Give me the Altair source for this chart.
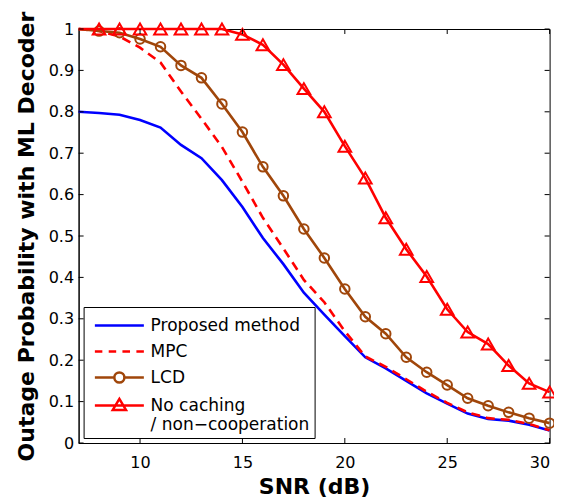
import altair as alt
import pandas as pd

# ---------------- data ----------------
snr = list(range(7, 31))
proposed = [0.800, 0.797, 0.793, 0.780, 0.762, 0.720, 0.688, 0.635, 0.570, 0.495,
            0.432, 0.363, 0.310, 0.258, 0.207, 0.180, 0.150, 0.120, 0.095, 0.071,
            0.058, 0.054, 0.044, 0.030]
mpc = [1.000, 0.995, 0.982, 0.955, 0.919, 0.849, 0.783, 0.715, 0.631, 0.544,
       0.470, 0.394, 0.340, 0.270, 0.209, 0.184, 0.154, 0.124, 0.097, 0.074,
       0.060, 0.056, 0.046, 0.031]
lcd = [1.000, 0.995, 0.991, 0.976, 0.957, 0.912, 0.882, 0.819, 0.751, 0.667,
       0.597, 0.517, 0.447, 0.372, 0.305, 0.264, 0.207, 0.171, 0.140, 0.108,
       0.090, 0.074, 0.060, 0.048]
no_caching = [1.000, 1.000, 1.000, 1.000, 1.000, 1.000, 1.000, 1.000, 0.987, 0.962,
              0.914, 0.856, 0.800, 0.717, 0.640, 0.544, 0.468, 0.402, 0.323, 0.268,
              0.239, 0.187, 0.144, 0.123]

series_names = ["Proposed method", "MPC", "LCD", "No caching\n/ non\u2212cooperation"]
series_colors = ["#0000FF", "#FF0000", "#A0460A", "#FF0000"]
legend_paths = [
    "M-0.59,0H3.41",
    "M-0.59,0H0.02M0.54,0H1.15M1.66,0H2.28M2.8,0H3.41",
    "M-0.59,0H1.0M1.82,0H3.41M1.82,0A0.41,0.41 0 1,1 1.0,0A0.41,0.41 0 1,1 1.82,0",
    "M-0.59,0H3.41M1.41,-0.54L1.95,0.36L0.87,0.36Z",
]
x_ticks = [10, 15, 20, 25, 30]
y_ticks = [0, 0.1, 0.2, 0.3, 0.4, 0.5, 0.6, 0.7, 0.8, 0.9, 1.0]

W, H = 471, 414
FONT = "DejaVu Sans"

df = pd.DataFrame({"snr": snr, "proposed": proposed, "mpc": mpc,
                   "lcd": lcd, "nocache": no_caching})
xt = pd.DataFrame({"t": x_ticks})
yt = pd.DataFrame({"t": y_ticks})
leg = pd.DataFrame({"series": series_names})

xscale = alt.Scale(domain=[7, 30], nice=False, zero=False)
yscale = alt.Scale(domain=[0, 1], nice=False, zero=False)

x_axis = alt.Axis(values=x_ticks, title="SNR (dB)", labelPadding=11,
                  titleBaseline="alphabetic", titleY=50)
y_axis = alt.Axis(values=y_ticks, format="~g", title="Outage Probability with ML Decoder",
                  labelPadding=5, titleBaseline="alphabetic", titleX=-45, titleY=H / 2,
                  titleAngle=270, titleAlign="center")


def X(field):
    return alt.X(f"{field}:Q", scale=xscale, axis=x_axis)


def Y(field):
    return alt.Y(f"{field}:Q", scale=yscale, axis=y_axis)


base = alt.Chart(df)


def line(col, color, dash=None):
    kw = dict(color=color, strokeWidth=2.6, clip=False)
    if dash:
        kw["strokeDash"] = dash
    return base.mark_line(**kw).encode(x=X("snr"), y=Y(col))


def points(col, color, shape, size):
    return base.transform_filter("datum.snr >= 8").mark_point(
        shape=shape, size=size, filled=False, color=color, strokeWidth=2, opacity=1, clip=False
    ).encode(x=X("snr"), y=Y(col))


l_prop = line("proposed", series_colors[0])
l_mpc = line("mpc", series_colors[1], dash=[9, 6])
l_lcd = line("lcd", series_colors[2])
p_lcd = points("lcd", series_colors[2], "circle", 90)
l_nc = line("nocache", series_colors[3])
p_nc = points("nocache", series_colors[3], "triangle-up", 160)

# inward tick marks (MATLAB style)
tick_b = alt.Chart(xt).mark_rule(color="black", strokeWidth=1).encode(
    x=X("t"), y=alt.value(H), y2=alt.value(H - 5))
tick_t = alt.Chart(xt).mark_rule(color="black", strokeWidth=1).encode(
    x=X("t"), y=alt.value(0), y2=alt.value(5))
tick_l = alt.Chart(yt).mark_rule(color="black", strokeWidth=1).encode(
    y=Y("t"), x=alt.value(0), x2=alt.value(5))
tick_r = alt.Chart(yt).mark_rule(color="black", strokeWidth=1).encode(
    y=Y("t"), x=alt.value(W), x2=alt.value(W - 5))

legend_def = alt.Legend(
    title=None, orient="bottom-left", offset=5,
    labelExpr="split(datum.label, '\\n')",
    labelFont=FONT, labelFontSize=17, labelColor="black", labelLimit=400,
    labelOffset=35, symbolSize=600, symbolStrokeWidth=2.5,
    padding=5, rowPadding=4, strokeColor="black", fillColor="white",
    cornerRadius=0,
)
legend_layer = alt.Chart(leg).transform_filter("false").mark_point(
    filled=False, size=600, strokeWidth=2.5, opacity=1
).encode(
    color=alt.Color("series:N", scale=alt.Scale(domain=series_names, range=series_colors),
                    legend=legend_def),
    shape=alt.Shape("series:N", scale=alt.Scale(domain=series_names, range=legend_paths),
                    legend=legend_def),
)

chart = alt.layer(
    l_prop, l_mpc, l_lcd, p_lcd, l_nc, p_nc,
    tick_b, tick_t, tick_l, tick_r, legend_layer
).properties(
    width=W, height=H,
    background="white",
    autosize=alt.AutoSizeParams(type="none"),
    padding={"left": 70.6, "top": 21, "right": 4.4, "bottom": 58},
).configure_view(
    stroke="black", strokeWidth=1
).configure_axis(
    grid=False, ticks=False, tickSize=0, domainColor="black", domainWidth=1,
    labelFont=FONT, labelFontSize=16, labelColor="black",
    titleFont=FONT, titleFontSize=22, titleFontWeight="bold", titleColor="black",
)

chart.save("out.html", embed_options={"renderer": "svg", "actions": False})
